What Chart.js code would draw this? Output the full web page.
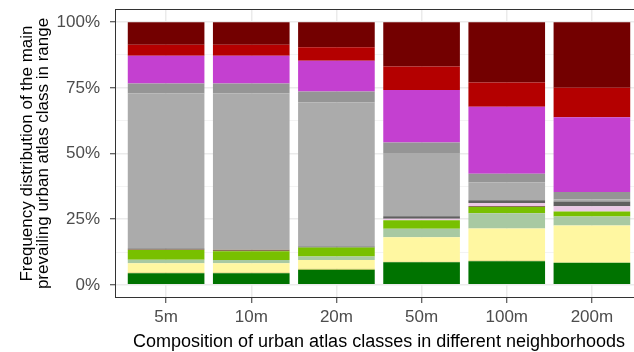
<!DOCTYPE html>
<html>
<head>
<meta charset="utf-8">
<script src="https://cdn.jsdelivr.net/npm/chart.js@4/dist/chart.umd.min.js"></script>
<style>
  html, body { margin: 0; padding: 0; background: #fff; overflow: hidden; }
  #wrap { position: relative; width: 643px; height: 352px; }
</style>
</head>
<body>
<div id="wrap"><canvas id="c"></canvas></div>
<script>
// Neighbourhood sizes on the x axis
const categories = ['5m', '10m', '20m', '50m', '100m', '200m'];

// Y axis ticks (share of classes, percent)
const yTickValues = [0, 25, 50, 75, 100];
const yTickLabels = ['0%', '25%', '50%', '75%', '100%'];
const yMinorValues = [12.5, 37.5, 62.5, 87.5];

// Class shares per neighbourhood, listed from the bottom of each stack upwards
const darkGreen   = [4.4, 4.4, 5.8, 8.6, 9.0, 8.4];
const mustard     = [0.3, 0.3, 0.3, 0.2, 0.3, 0.0];
const paleYellow  = [3.5, 3.5, 3.4, 9.3, 12.2, 14.2];
const sage        = [1.4, 1.3, 1.3, 3.3, 5.8, 3.4];
const brightGreen = [3.7, 3.3, 3.4, 3.2, 2.3, 1.9];
const brown       = [0.3, 0.6, 0.0, 0.0, 0.4, 0.0];
const pink        = [0.0, 0.0, 0.0, 0.6, 1.2, 2.0];
const darkGray    = [0.2, 0.0, 0.4, 0.9, 1.0, 1.8];
const lightGray   = [59.0, 59.4, 54.8, 24.1, 6.8, 0.8];
const midGray     = [3.8, 3.8, 4.2, 4.0, 3.3, 2.8];
const magenta     = [10.6, 10.6, 11.7, 20.0, 25.5, 28.5];
const red         = [4.2, 4.2, 5.1, 8.9, 9.2, 11.2];
const darkRed     = [8.6, 8.6, 9.6, 16.9, 23.0, 25.0];

const stack = [
  [darkGreen,   '#007300'],
  [mustard,     '#D9CB55'],
  [paleYellow,  '#FFF7A1'],
  [sage,        '#A8C9A2'],
  [brightGreen, '#78C000'],
  [brown,       '#8C7055'],
  [pink,        '#EBC8E6'],
  [darkGray,    '#606060'],
  [lightGray,   '#ABABAB'],
  [midGray,     '#959595'],
  [magenta,     '#C440D0'],
  [red,         '#B40000'],
  [darkRed,     '#730000']
];

const datasets = stack.map(([values, colour]) => ({
  data: values.map((v, i) => ({ x: i + 1, y: v })),
  backgroundColor: colour,
  borderWidth: 0,
  barPercentage: 0.9,
  categoryPercentage: 1.0
}));

const FONT = "'Liberation Sans', Arial, sans-serif";
const isMajorY = v => yTickValues.includes(v);

// Frame around the plotting panel
const panelBorder = {
  id: 'panelBorder',
  afterDraw(chart) {
    const { ctx, chartArea: a } = chart;
    ctx.save();
    ctx.strokeStyle = '#333333';
    ctx.lineWidth = 1;
    ctx.strokeRect(a.left + 0.5, a.top + 0.5, a.right - a.left - 1, a.bottom - a.top - 1);
    ctx.restore();
  }
};

new Chart(document.getElementById('c'), {
  type: 'bar',
  data: { datasets },
  plugins: [panelBorder],
  options: {
    responsive: true,
    maintainAspectRatio: false,
    animation: false,
    layout: { padding: { top: 9, left: 0, right: 0, bottom: 0 } },
    plugins: { legend: { display: false }, tooltip: { enabled: false } },
    scales: {
      x: {
        type: 'linear',
        stacked: true,
        min: 0.4,
        max: 6.6,
        offset: false,
        afterBuildTicks(scale) {
          scale.ticks = categories.map((_, i) => ({ value: i + 1 }));
        },
        afterFit(scale) { scale.height = 54; scale.paddingLeft = 0; scale.paddingRight = 0; },
        ticks: {
          callback: v => categories[v - 1],
          color: '#4D4D4D',
          font: { family: FONT, size: 17 },
          padding: 4,
          maxRotation: 0,
          autoSkip: false
        },
        grid: {
          offset: false,
          color: '#EBEBEB',
          lineWidth: 1.5,
          drawTicks: true,
          tickLength: 5,
          tickColor: '#333333',
          tickWidth: 1
        },
        border: { display: false },
        title: {
          display: true,
          text: 'Composition of urban atlas classes in different neighborhoods',
          color: '#000000',
          font: { family: FONT, size: 18, lineHeight: 1.0 },
          padding: { top: 0, bottom: 1 }
        }
      },
      y: {
        stacked: true,
        min: -5,
        max: 105,
        afterBuildTicks(scale) {
          scale.ticks = [...yTickValues, ...yMinorValues]
            .sort((a, b) => a - b)
            .map(v => ({ value: v }));
        },
        afterFit(scale) { scale.width = 115; scale.paddingTop = 0; scale.paddingBottom = 0; },
        ticks: {
          callback: v => {
            const k = yTickValues.indexOf(v);
            return k >= 0 ? yTickLabels[k] : '';
          },
          color: '#4D4D4D',
          font: { family: FONT, size: 17, lineHeight: 1.0 },
          padding: 10,
          autoSkip: false
        },
        grid: {
          color: ctx => isMajorY(ctx.tick.value) ? '#EBEBEB' : '#F3F3F3',
          lineWidth: ctx => isMajorY(ctx.tick.value) ? 1.5 : 1,
          drawTicks: true,
          tickLength: 5,
          tickColor: ctx => isMajorY(ctx.tick.value) ? '#333333' : 'rgba(0,0,0,0)',
          tickWidth: 1
        },
        border: { display: false },
        title: {
          display: true,
          text: ['Frequency distribution of the main', 'prevailing urban atlas class in range'],
          color: '#000000',
          font: { family: FONT, size: 17, lineHeight: 0.94 },
          padding: { top: 19.5, bottom: 0 }
        }
      }
    }
  }
});
</script>
</body>
</html>
